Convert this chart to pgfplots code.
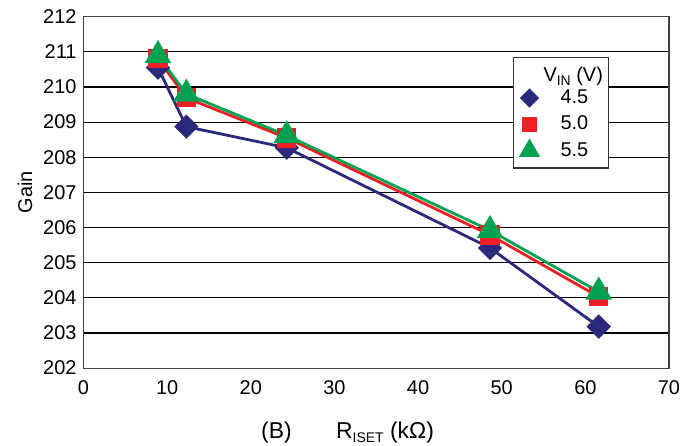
\documentclass[border=0pt]{standalone}
\usepackage{pgfplots}
\pgfplotsset{compat=1.18}
\usepackage{fontspec}
\setmainfont{Liberation Sans}
\definecolor{cblue}{RGB}{43,42,122}
\definecolor{cred}{RGB}{237,30,36}
\definecolor{cgreen}{RGB}{0,161,80}
\newcommand{\sub}[1]{\raisebox{-0.35ex}{\fontsize{7}{8}\selectfont #1}}
\begin{document}
\begin{tikzpicture}
\begin{axis}[
  scale only axis,
  width=292.75bp, height=175.7bp,
  at={(0,0)}, anchor=south west,
  xmin=0, xmax=70, ymin=202, ymax=212,
  xtick={0,10,...,70},
  ytick={202,203,...,212},
  major tick length=0pt,
  ymajorgrids,
  grid style={black, line width=0.6bp},
  axis line style={black!75, line width=0.6bp},
  tick label style={font=\fontsize{10}{12}\selectfont},
  xticklabel style={yshift=-2.75bp},
  /pgf/number format/assume math mode=true,
  ylabel={Gain},
  ylabel style={at={(axis description cs:-0.1,0.5)}, anchor=center, font=\fontsize{10}{12}\selectfont},
  xlabel={R\sub{ISET} (kΩ)},
  xlabel style={at={(axis description cs:0.515,-0.1993)}, anchor=base, font=\fontsize{11.5}{13}\selectfont},
  legend style={at={(axis description cs:0.733,0.886)}, anchor=north west,
    draw=black!80, line width=0.6bp, fill=white,
    font=\fontsize{10}{12}\selectfont, row sep=0pt, column sep=0pt,
    inner xsep=0pt, inner ysep=2bp, nodes={inner sep=0pt}},
  legend cell align=left,
  legend image code/.code={\path[draw=none,fill=none] (0bp,-6.6bp) rectangle (23.65bp,6.6bp);
    \draw[only marks,#1,every mark/.append style={scale=0.75}] plot coordinates {(8.15bp,0bp)};},
]
\addlegendimage{empty legend}
\addlegendentry{\rule[-3bp]{0pt}{13.2bp}\hspace{-8.5bp}\makebox[32.5bp][l]{V\sub{IN} (V)}}
\addplot[cblue, line width=1.4bp, mark=square*, mark size=3.6bp, mark options={rotate=45, solid, fill=cblue}]
  coordinates {(8.9,210.55) (12.3,208.87) (24.3,208.27) (48.6,205.42) (61.6,203.18)};
\addlegendentry{4.5}
\addplot[cred, line width=1.4bp, mark=square*, mark size=4.1bp, mark options={solid, fill=cred}]
  coordinates {(8.9,210.8) (12.3,209.69) (24.3,208.55) (48.6,205.79) (61.6,204.03)};
\addlegendentry{5.0}
\addplot[cgreen, line width=1.4bp, mark=triangle*, mark size=6.3bp, mark options={solid, fill=cgreen}]
  coordinates {(8.9,210.9) (12.3,209.8) (24.3,208.62) (48.6,205.92) (61.6,204.17)};
\addlegendentry{5.5}
\end{axis}
\node[anchor=base, font=\fontsize{11.5}{13}\selectfont] at (96.5bp,-35bp) {(B)};
\pgfresetboundingbox
\path (-41.75bp,-38.5bp) rectangle (302.75bp,184.05bp);
\end{tikzpicture}
\end{document}
